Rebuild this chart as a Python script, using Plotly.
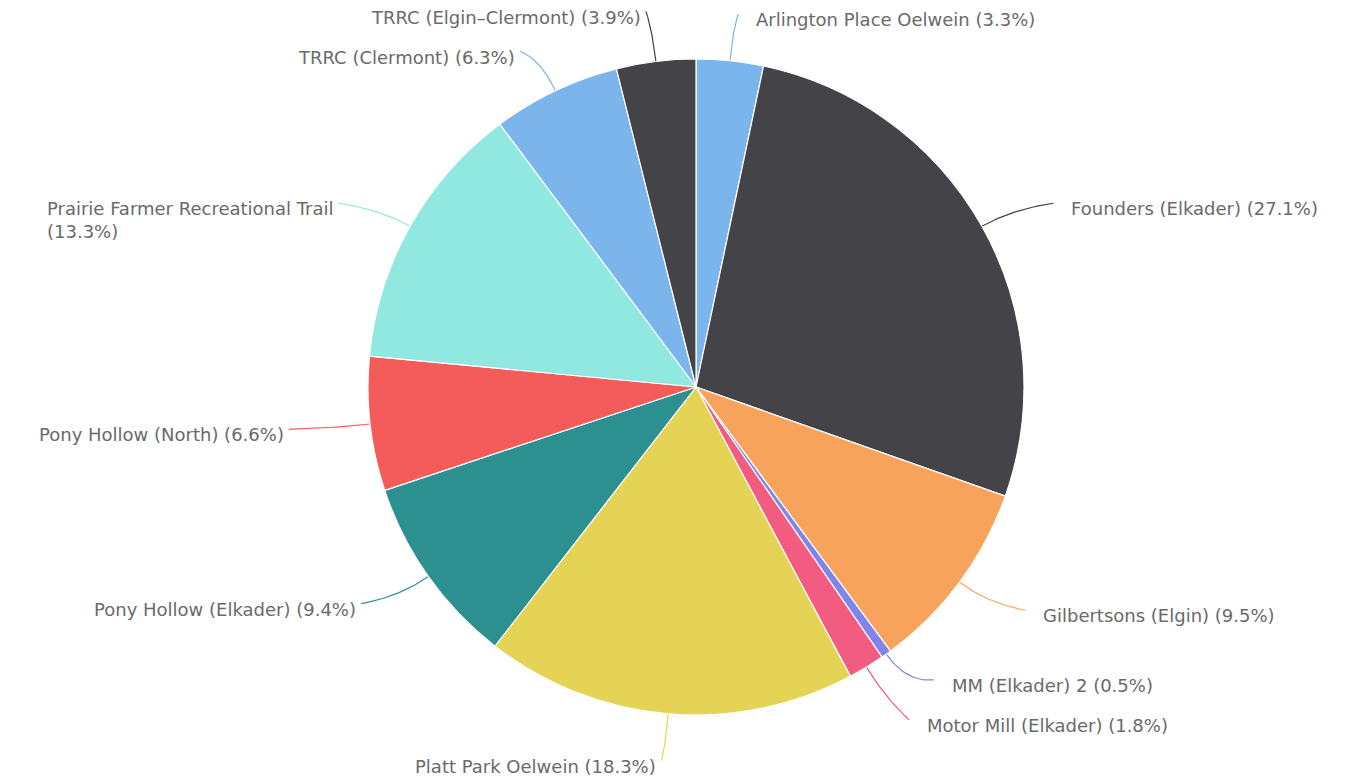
import numpy as np
import plotly.graph_objects as go

# ---- data ----
labels = ["Arlington Place Oelwein", "Founders (Elkader)", "Gilbertsons (Elgin)",
          "MM (Elkader) 2", "Motor Mill (Elkader)", "Platt Park Oelwein",
          "Pony Hollow (Elkader)", "Pony Hollow (North)",
          "Prairie Farmer Recreational Trail", "TRRC (Clermont)", "TRRC (Elgin–Clermont)"]
values = [3.3, 27.1, 9.5, 0.5, 1.8, 18.3, 9.4, 6.6, 13.3, 6.3, 3.9]
colors = ["#7cb5ec", "#434348", "#f7a35c", "#8085e9", "#f15c80", "#e4d354",
          "#2b908f", "#f45b5b", "#91e8e1", "#7cb5ec", "#434348"]

# ---- geometry / style ----
W, H = 1357, 784
CX, CY, R = 696, 387, 328          # pie centre and radius in px
RX_LBL, RY_LBL = 410, 375          # label anchor ellipse
MIN_GAP = 40
FONT = dict(family="DejaVu Sans", size=18, color="#6a6a6a")

vals = np.array(values, dtype=float)
pct = vals / vals.sum() * 100
cum = np.concatenate([[0], np.cumsum(vals)]) / vals.sum()
mid = (cum[:-1] + cum[1:]) / 2 * 2 * np.pi      # clockwise from 12 o'clock
sx, cy_ = np.sin(mid), -np.cos(mid)             # screen direction (y down)

ey = CY + cy_ * RY_LBL
side = np.where(sx >= 0, 1, -1)

# simple collision resolution per side
ey = ey.copy()
for s in (1, -1):
    idx = [i for i in range(len(vals)) if side[i] == s]
    idx.sort(key=lambda i: ey[i])
    for _ in range(200):
        moved = False
        for a, b in zip(idx[:-1], idx[1:]):
            gap = ey[b] - ey[a]
            if gap < MIN_GAP:
                d = (MIN_GAP - gap) / 2
                ey[a] -= d
                ey[b] += d
                moved = True
        if not moved:
            break
ex = CX + sx * RX_LBL

fig = go.Figure()
fig.add_trace(go.Pie(
    labels=labels, values=values, sort=False, direction="clockwise", rotation=0,
    marker=dict(colors=colors, line=dict(color="#ffffff", width=1.2)),
    textinfo="none", hoverinfo="label+percent", showlegend=False,
    domain=dict(x=[(CX - R) / W, (CX + R) / W], y=[1 - (CY + R) / H, 1 - (CY - R) / H]),
))

t = np.linspace(0, 1, 30)
for i in range(len(vals)):
    p0 = np.array([CX + sx[i] * R, CY + cy_[i] * R])
    p1 = np.array([CX + sx[i] * (R + 35), CY + cy_[i] * (R + 35)])
    p2 = np.array([ex[i], ey[i]])
    pts = ((1 - t) ** 2)[:, None] * p0 + (2 * (1 - t) * t)[:, None] * p1 + (t ** 2)[:, None] * p2
    fig.add_trace(go.Scatter(x=pts[:, 0], y=pts[:, 1], mode="lines",
                             line=dict(color=colors[i], width=1.2),
                             hoverinfo="skip", showlegend=False,
                             xaxis="x", yaxis="y"))
    txt = f"{labels[i]} ({pct[i]:.1f}%)"
    if len(txt) > 32:
        txt = f"{labels[i]}<br>({pct[i]:.1f}%)"
    if side[i] > 0:
        fig.add_annotation(x=ex[i] + 16, y=ey[i] - 7, text=txt, xanchor="left",
                           yanchor="top", align="left", showarrow=False, font=FONT,
                           xref="x", yref="y")
    else:
        fig.add_annotation(x=ex[i] - 3, y=ey[i] - 7, text=txt, xanchor="right",
                           yanchor="top", align="left", showarrow=False, font=FONT,
                           xref="x", yref="y")

fig.update_layout(
    width=W, height=H, margin=dict(l=0, r=0, t=0, b=0),
    paper_bgcolor="#ffffff", plot_bgcolor="rgba(0,0,0,0)",
    xaxis=dict(range=[0, W], visible=False, fixedrange=True, domain=[0, 1]),
    yaxis=dict(range=[H, 0], visible=False, fixedrange=True, domain=[0, 1]),
)

fig.write_html("out.html", config={"displayModeBar": False},
               post_script="document.body.style.margin='0';document.body.style.overflow='hidden';")
